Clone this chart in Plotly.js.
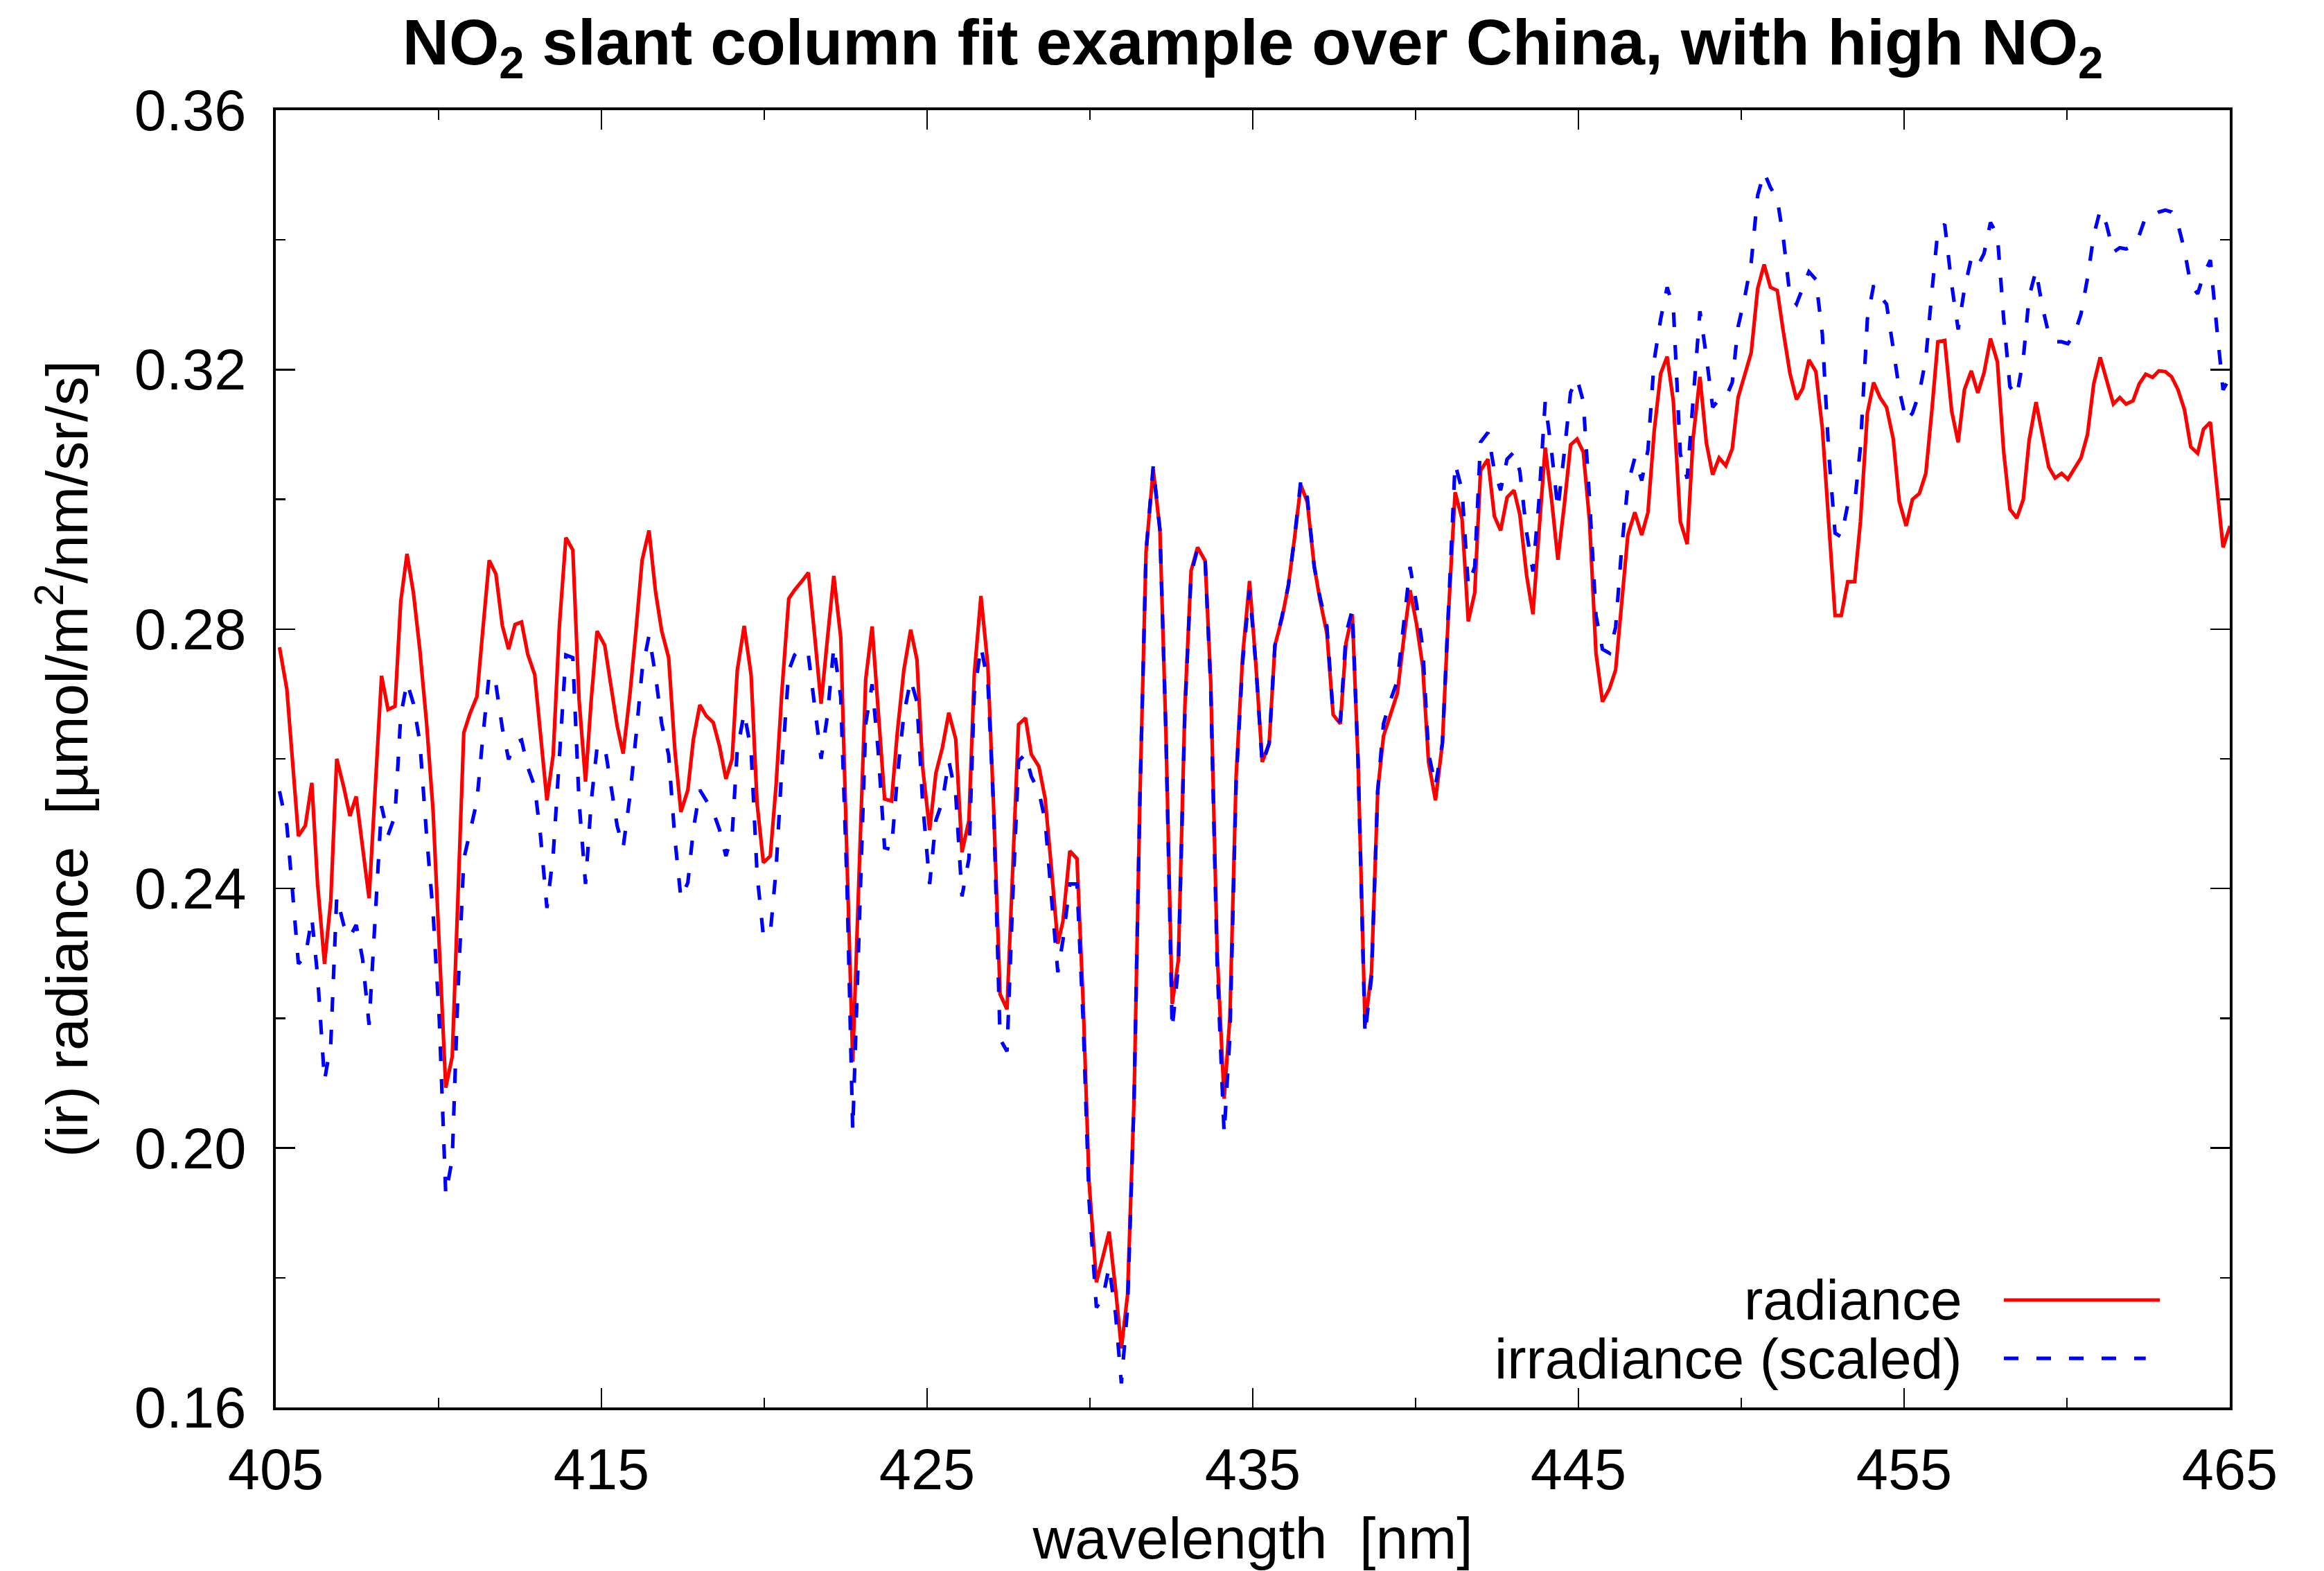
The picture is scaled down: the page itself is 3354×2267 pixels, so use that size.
<!DOCTYPE html>
<html>
<head>
<meta charset="utf-8">
<script src="https://cdn.plot.ly/plotly-3.0.1.min.js"></script>
<style>
  html, body { margin: 0; padding: 0; background: #ffffff; }
  #chart { width: 3354px; height: 2267px; }
</style>
</head>
<body>
<div id="chart"></div>
<script>
// Wavelength grid of the spectrum [nm]
const wavelength = [
  405.114, 405.341, 405.518, 405.695, 405.908, 406.107, 406.284, 406.497, 406.688, 406.872,
  407.085, 407.277, 407.468, 407.667, 407.865, 408.057, 408.248, 408.447, 408.660, 408.837,
  409.029, 409.227, 409.426, 409.631, 409.830, 410.021, 410.220, 410.419, 410.589, 410.773,
  410.965, 411.177, 411.355, 411.553, 411.759, 411.958, 412.149, 412.348, 412.546, 412.738,
  412.951, 413.128, 413.326, 413.518, 413.709, 413.908, 414.121, 414.312, 414.511, 414.688,
  414.865,
  415.100, 415.291, 415.482, 415.667, 415.880, 416.071, 416.248, 416.461, 416.660, 416.851,
  417.064, 417.255, 417.440, 417.653, 417.823, 418.021, 418.220, 418.433, 418.624, 418.823,
  419.014, 419.170, 419.383, 419.596, 419.780, 419.972, 420.184, 420.362, 420.539, 420.752,
  420.929, 421.142, 421.355, 421.553, 421.745, 421.943, 422.135, 422.348, 422.539, 422.716,
  422.915, 423.114, 423.312, 423.496, 423.695, 423.908, 424.085, 424.284, 424.496, 424.688,
  424.865,
  425.078, 425.270, 425.468, 425.667, 425.880, 426.071, 426.284, 426.447, 426.653, 426.865,
  427.043, 427.241, 427.454, 427.631, 427.809, 428.021, 428.199, 428.433, 428.624, 428.816,
  429.014, 429.170, 429.383, 429.603, 429.794, 429.972, 430.199, 430.397, 430.589, 430.787,
  430.965, 431.156, 431.355, 431.532, 431.723, 431.943, 432.149, 432.333, 432.525, 432.716,
  432.915, 433.106, 433.305, 433.539, 433.709, 433.908, 434.121, 434.298, 434.489, 434.688,
  434.901, 435.100, 435.291, 435.504, 435.681, 435.894, 436.092, 436.284, 436.475, 436.674,
  436.887, 437.064, 437.277, 437.468, 437.688, 437.865, 438.057, 438.234, 438.447, 438.646,
  438.837, 439.014, 439.227, 439.440, 439.638, 439.830, 440.028, 440.220, 440.397, 440.610,
  440.823, 441.000, 441.213, 441.426, 441.617, 441.816, 441.993, 442.220, 442.419, 442.610,
  442.809, 443.021, 443.199, 443.411, 443.603, 443.780, 443.979, 444.177, 444.369, 444.567,
  444.759,
  444.958, 445.149, 445.341, 445.539, 445.738, 445.951, 446.142, 446.319, 446.518, 446.731,
  446.943, 447.135, 447.326, 447.525, 447.724, 447.915, 448.128, 448.340, 448.518, 448.731,
  448.929, 449.121, 449.319, 449.525, 449.723, 449.901, 450.113, 450.305, 450.504, 450.702,
  450.894, 451.106, 451.284, 451.496, 451.695, 451.887, 452.078, 452.291, 452.489, 452.688,
  452.880, 453.071, 453.270, 453.482, 453.660, 453.872, 454.064, 454.262, 454.461, 454.667,
  454.851, 455.064, 455.255, 455.468, 455.667, 455.858, 456.036, 456.248, 456.461, 456.660,
  456.851, 457.064, 457.263, 457.454, 457.653, 457.865, 458.057, 458.248, 458.461, 458.660,
  458.837, 459.050, 459.241, 459.440, 459.638, 459.837, 460.028, 460.234, 460.433, 460.631,
  460.823, 461.021, 461.213, 461.426, 461.624, 461.816, 462.028, 462.220, 462.419, 462.631,
  462.823, 463.021, 463.213, 463.411, 463.610, 463.801, 464.014, 464.191, 464.404, 464.603,
  464.794, 465.007
];

// Measured radiance [umol/m2/nm/sr/s]
const radiance = [
  0.2772, 0.2707, 0.2594, 0.2481, 0.2497, 0.2563, 0.2407, 0.2284, 0.2381, 0.2600,
  0.2557, 0.2512, 0.2542, 0.2464, 0.2385, 0.2557, 0.2728, 0.2676, 0.2681, 0.2842,
  0.2916, 0.2856, 0.2767, 0.2655, 0.2520, 0.2310, 0.2093, 0.2141, 0.2393, 0.2640,
  0.2670, 0.2696, 0.2797, 0.2906, 0.2885, 0.2805, 0.2769, 0.2807, 0.2811, 0.2761,
  0.2730, 0.2636, 0.2536, 0.2606, 0.2805, 0.2941, 0.2922, 0.2692, 0.2565, 0.2692,
  0.2797,
  0.2775, 0.2715, 0.2651, 0.2608, 0.2702, 0.2804, 0.2906, 0.2952, 0.2858, 0.2797,
  0.2756, 0.2613, 0.2518, 0.2552, 0.2630, 0.2683, 0.2666, 0.2656, 0.2620, 0.2569,
  0.2600, 0.2736, 0.2805, 0.2729, 0.2531, 0.2440, 0.2450, 0.2559, 0.2702, 0.2847,
  0.2860, 0.2873, 0.2887, 0.2787, 0.2685, 0.2787, 0.2882, 0.2787, 0.2463, 0.2133,
  0.2429, 0.2722, 0.2804, 0.2668, 0.2538, 0.2535, 0.2640, 0.2736, 0.2799, 0.2753,
  0.2586,
  0.2490, 0.2578, 0.2617, 0.2671, 0.2630, 0.2456, 0.2505, 0.2729, 0.2851, 0.2744,
  0.2524, 0.2237, 0.2214, 0.2446, 0.2653, 0.2663, 0.2607, 0.2588, 0.2539, 0.2432,
  0.2315, 0.2349, 0.2458, 0.2446, 0.2222, 0.1949, 0.1793, 0.1832, 0.1871, 0.1783,
  0.1691, 0.1774, 0.2076, 0.2534, 0.2919, 0.3046, 0.2953, 0.2641, 0.2222, 0.2290,
  0.2680, 0.2890, 0.2926, 0.2905, 0.2719, 0.2300, 0.2076, 0.2202, 0.2573, 0.2758,
  0.2874, 0.2742, 0.2595, 0.2624, 0.2775, 0.2816, 0.2867, 0.2941, 0.3022, 0.2996,
  0.2897, 0.2845, 0.2793, 0.2668, 0.2654, 0.2779, 0.2823, 0.2595, 0.2190, 0.2271,
  0.2551, 0.2635, 0.2668, 0.2701, 0.2786, 0.2860, 0.2808, 0.2742, 0.2595, 0.2536,
  0.2624, 0.2816, 0.3011, 0.2970, 0.2812, 0.2856, 0.3044, 0.3062, 0.2974, 0.2952,
  0.3003, 0.3014, 0.2977, 0.2882, 0.2823, 0.2948, 0.3080, 0.2999, 0.2907, 0.2992,
  0.3084,
  0.3093, 0.3073, 0.2966, 0.2763, 0.2688, 0.2708, 0.2737, 0.2832, 0.2945, 0.2980,
  0.2945, 0.2980, 0.3105, 0.3194, 0.3220, 0.3151, 0.2966, 0.2931, 0.3093, 0.3189,
  0.3087, 0.3038, 0.3064, 0.3052, 0.3078, 0.3157, 0.3191, 0.3226, 0.3325, 0.3362,
  0.3327, 0.3322, 0.3261, 0.3194, 0.3154, 0.3171, 0.3215, 0.3197, 0.3110, 0.2966,
  0.2821, 0.2821, 0.2873, 0.2873, 0.2966, 0.3133, 0.3180, 0.3157, 0.3142, 0.3093,
  0.2997, 0.2959, 0.3000, 0.3009, 0.3040, 0.3140, 0.3243, 0.3245, 0.3136, 0.3088,
  0.3169, 0.3198, 0.3164, 0.3195, 0.3248, 0.3212, 0.3074, 0.2985, 0.2971, 0.3000,
  0.3090, 0.3150, 0.3102, 0.3050, 0.3033, 0.3040, 0.3031, 0.3047, 0.3064, 0.3100,
  0.3178, 0.3219, 0.3183, 0.3147, 0.3157, 0.3147, 0.3152, 0.3178, 0.3193, 0.3188,
  0.3198, 0.3197, 0.3189, 0.3169, 0.3138, 0.3081, 0.3071, 0.3108, 0.3119, 0.3026,
  0.2926, 0.2959
];

// Solar irradiance, scaled to the radiance level
const irradianceScaled = [
  0.2550, 0.2497, 0.2393, 0.2284, 0.2295, 0.2355, 0.2265, 0.2104, 0.2160, 0.2387,
  0.2344, 0.2325, 0.2344, 0.2291, 0.2190, 0.2363, 0.2527, 0.2482, 0.2512, 0.2666,
  0.2718, 0.2685, 0.2625, 0.2482, 0.2363, 0.2198, 0.1928, 0.1984, 0.2235, 0.2445,
  0.2486, 0.2535, 0.2632, 0.2730, 0.2715, 0.2647, 0.2599, 0.2625, 0.2629, 0.2587,
  0.2557, 0.2482, 0.2370, 0.2452, 0.2602, 0.2760, 0.2756, 0.2535, 0.2407, 0.2535,
  0.2617,
  0.2620, 0.2559, 0.2497, 0.2463, 0.2545, 0.2640, 0.2736, 0.2790, 0.2729, 0.2654,
  0.2606, 0.2477, 0.2385, 0.2409, 0.2491, 0.2552, 0.2535, 0.2518, 0.2491, 0.2450,
  0.2484, 0.2613, 0.2671, 0.2613, 0.2422, 0.2327, 0.2330, 0.2429, 0.2586, 0.2736,
  0.2760, 0.2770, 0.2760, 0.2681, 0.2600, 0.2668, 0.2773, 0.2695, 0.2409, 0.2027,
  0.2341, 0.2654, 0.2715, 0.2613, 0.2463, 0.2460, 0.2572, 0.2668, 0.2722, 0.2688,
  0.2531,
  0.2407, 0.2505, 0.2534, 0.2597, 0.2544, 0.2388, 0.2446, 0.2700, 0.2773, 0.2719,
  0.2524, 0.2168, 0.2149, 0.2388, 0.2597, 0.2607, 0.2573, 0.2549, 0.2505, 0.2388,
  0.2271, 0.2320, 0.2407, 0.2407, 0.2193, 0.1920, 0.1754, 0.1769, 0.1817, 0.1744,
  0.1637, 0.1754, 0.2076, 0.2534, 0.2919, 0.3051, 0.2953, 0.2641, 0.2183, 0.2280,
  0.2671, 0.2885, 0.2924, 0.2905, 0.2709, 0.2280, 0.2022, 0.2173, 0.2563, 0.2749,
  0.2860, 0.2742, 0.2591, 0.2624, 0.2775, 0.2819, 0.2867, 0.2941, 0.3029, 0.3003,
  0.2896, 0.2849, 0.2804, 0.2668, 0.2657, 0.2793, 0.2830, 0.2595, 0.2175, 0.2264,
  0.2551, 0.2654, 0.2690, 0.2720, 0.2815, 0.2896, 0.2838, 0.2771, 0.2609, 0.2558,
  0.2624, 0.2815, 0.3055, 0.3014, 0.2867, 0.2896, 0.3088, 0.3103, 0.3044, 0.3014,
  0.3062, 0.3073, 0.3044, 0.2948, 0.2889, 0.2992, 0.3150, 0.3073, 0.2985, 0.3073,
  0.3165,
  0.3186, 0.3151, 0.3000, 0.2821, 0.2769, 0.2763, 0.2803, 0.2919, 0.3023, 0.3064,
  0.3029, 0.3076, 0.3214, 0.3278, 0.3327, 0.3296, 0.3070, 0.3032, 0.3151, 0.3290,
  0.3220, 0.3142, 0.3154, 0.3157, 0.3180, 0.3266, 0.3313, 0.3365, 0.3469, 0.3504,
  0.3481, 0.3463, 0.3406, 0.3313, 0.3301, 0.3325, 0.3351, 0.3339, 0.3255, 0.3070,
  0.2948, 0.2942, 0.2992, 0.2994, 0.3081, 0.3278, 0.3330, 0.3313, 0.3301, 0.3232,
  0.3169, 0.3121, 0.3133, 0.3164, 0.3217, 0.3322, 0.3415, 0.3424, 0.3331, 0.3262,
  0.3324, 0.3372, 0.3360, 0.3379, 0.3427, 0.3407, 0.3279, 0.3174, 0.3159, 0.3217,
  0.3312, 0.3353, 0.3298, 0.3255, 0.3243, 0.3243, 0.3240, 0.3255, 0.3286, 0.3341,
  0.3407, 0.3446, 0.3424, 0.3381, 0.3388, 0.3386, 0.3391, 0.3407, 0.3436, 0.3438,
  0.3443, 0.3446, 0.3443, 0.3424, 0.3384, 0.3331, 0.3317, 0.3345, 0.3369, 0.3264,
  0.3169, 0.3188
];

const seriesNames = ['radiance', 'irradiance (scaled)'];
const seriesColors = ['#ff0000', '#0000ff'];

const FONT = 'Liberation Sans, Arial, Helvetica, sans-serif';
const LINE_W = 5.2;
const DASH = '21px,26px';

const traces = [
  {
    x: wavelength, y: radiance, name: seriesNames[0],
    type: 'scatter', mode: 'lines',
    line: { color: seriesColors[0], width: LINE_W }
  },
  {
    x: wavelength, y: irradianceScaled, name: seriesNames[1],
    type: 'scatter', mode: 'lines',
    line: { color: seriesColors[1], width: LINE_W, dash: DASH }
  }
];

// Key in the lower right corner: right-aligned label followed by a line sample
const keyRowsY = [0.0828, 0.0379];
const keyAnnotations = seriesNames.map((n, i) => ({
  xref: 'paper', yref: 'paper', x: 0.8638, y: keyRowsY[i],
  xanchor: 'right', yanchor: 'middle', showarrow: false,
  text: n, font: { family: FONT, size: 82, color: '#000' }
}));
const keyShapes = seriesNames.map((n, i) => ({
  type: 'line', xref: 'paper', yref: 'paper',
  x0: 0.8844, x1: i === 0 ? 0.9642 : 0.9570, y0: keyRowsY[i], y1: keyRowsY[i],
  line: { color: seriesColors[i], width: LINE_W, dash: i === 0 ? 'solid' : DASH }
}));

const axisCommon = {
  showline: true, linecolor: '#000', linewidth: 4, mirror: 'allticks',
  ticks: 'inside', ticklen: 28, tickwidth: 2.5, tickcolor: '#000',
  showgrid: false, zeroline: false,
  tickfont: { family: FONT, size: 83, color: '#000' }
};

const layout = {
  width: 3354, height: 2267,
  margin: { l: 398, r: 136, t: 159, b: 236, pad: 0 },
  paper_bgcolor: '#ffffff', plot_bgcolor: '#ffffff',
  showlegend: false,
  font: { family: FONT, color: '#000' },
  title: {
    text: 'NO<sub>2</sub> slant column fit example over China, with high NO<sub>2</sub>',
    font: { family: FONT, size: 93, weight: 'bold', color: '#000' },
    x: 0.5, xref: 'paper', xanchor: 'center',
    y: 1 - 28 / 2267, yref: 'container', yanchor: 'top'
  },
  xaxis: Object.assign({}, axisCommon, {
    range: [405, 465], tick0: 405, dtick: 10,
    minor: { dtick: 5, tick0: 405, ticks: 'inside', ticklen: 14, tickwidth: 2.5, tickcolor: '#000', showgrid: false },
    ticklabelstandoff: 14,
    title: { text: 'wavelength\u00a0 [nm]', font: { family: FONT, size: 84, color: '#000' }, standoff: 34 },
    automargin: false
  }),
  yaxis: Object.assign({}, axisCommon, {
    range: [0.16, 0.36], tick0: 0.16, dtick: 0.04, tickformat: '.2f',
    minor: { dtick: 0.02, tick0: 0.16, ticks: 'inside', ticklen: 14, tickwidth: 2.5, tickcolor: '#000', showgrid: false },
    ticklabelstandoff: 22,
    title: { text: '(ir) radiance\u00a0 [µmol/m<sup>2</sup>/nm/sr/s]', font: { family: FONT, size: 84, color: '#000' }, standoff: 40 },
    automargin: false
  }),
  annotations: keyAnnotations,
  shapes: keyShapes
};

Plotly.newPlot('chart', traces, layout, { staticPlot: true, displayModeBar: false });
</script>
</body>
</html>
